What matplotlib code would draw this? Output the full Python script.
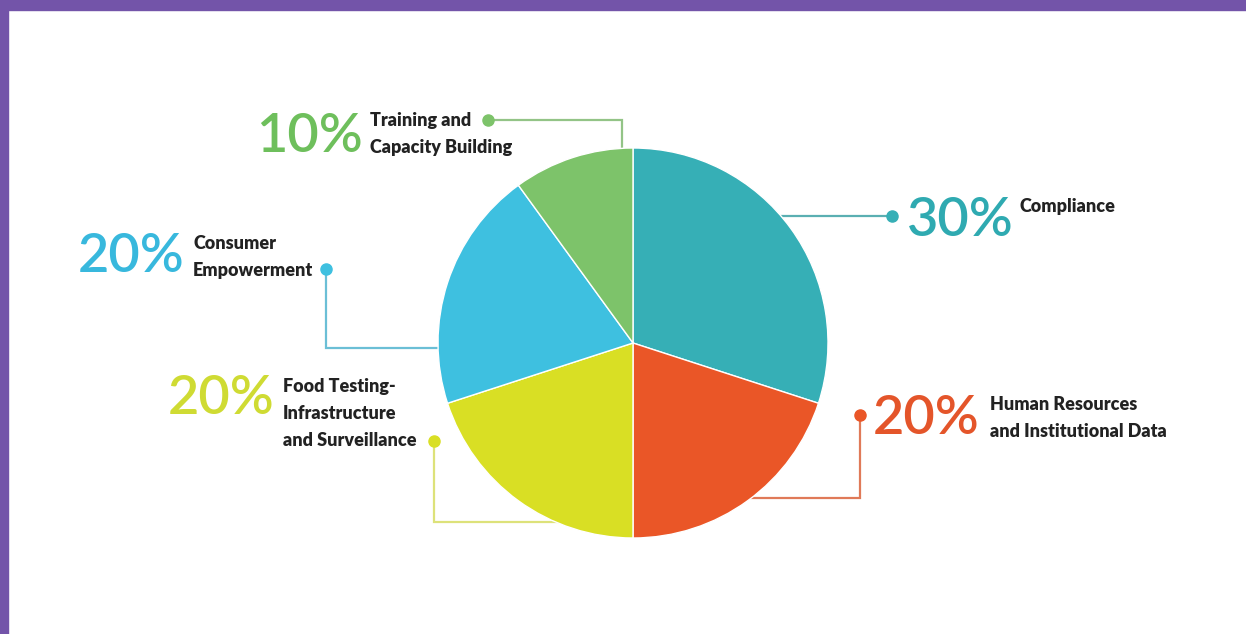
import matplotlib.pyplot as plt
from matplotlib.patches import Rectangle

# data
labels = ['Compliance', 'Human Resources\nand Institutional Data',
          'Food Testing-\nInfrastructure\nand Surveillance',
          'Consumer\nEmpowerment', 'Training and\nCapacity Building']
shares = [30, 20, 20, 20, 10]
colors = ['#36AFB6', '#EA5627', '#D9DF24', '#3EC0E0', '#7DC36A']
pct_colors = ['#2FAAB1', '#E4552A', '#CFDB33', '#38B8DD', '#6EBF5C']
line_colors = ['#5AAFB2', '#E07A58', '#DDE27A', '#6BBFD6', '#93C487']

W, H = 1246, 634
CX, CY, R = 633, 343, 195


def Y(y):
    # pixel row -> data y
    return H - y


fig = plt.figure(figsize=(W / 100, H / 100), dpi=100)
ax = fig.add_axes([0, 0, 1, 1])

# purple frame (top + left)
purple = '#7354A9'
ax.add_patch(Rectangle((0, Y(10)), W, 10, color=purple, zorder=0))
ax.add_patch(Rectangle((0, 0), 8, H, color=purple, zorder=0))

ax.pie(shares, colors=colors, startangle=90, counterclock=False,
       center=(CX, Y(CY)), radius=R, frame=True,
       wedgeprops=dict(edgecolor='white', linewidth=1.0))
ax.set_xlim(0, W)
ax.set_ylim(0, H)
ax.set_aspect('equal')
ax.axis('off')

# leader lines: dot -> corner -> end hidden under the pie
leaders = [
    [(892, 216), (700, 216)],
    [(860, 415), (860, 498), (700, 498)],
    [(434, 441), (434, 522), (600, 522)],
    [(326, 269), (326, 348), (520, 348)],
    [(488, 120), (622, 120), (622, 250)],
]
for pts, lc, c in zip(leaders, line_colors, colors):
    xs = [p[0] for p in pts]
    ys = [Y(p[1]) for p in pts]
    ax.plot(xs, ys, color=lc, lw=1.6, zorder=0.5, solid_joinstyle='miter')
    ax.plot(xs[0], ys[0], 'o', color=c, ms=8, zorder=3)

# percentage + label positions (pct left x, pct center y, label x, label top y)
spots = [
    (907, 220, 1020, 198),
    (873, 419, 990, 396),
    (168, 399, 283, 378),
    (78, 257, 193, 235),
    (256, 136, 370, 112),
]
line_gap = 27
for (px, py, lx, ly), share, lab, pc in zip(spots, shares, labels, pct_colors):
    ax.text(px, Y(py), f'{share}%', color=pc, fontsize=39, family='Lato',
            fontweight='semibold', va='center', ha='left')
    for i, part in enumerate(lab.split('\n')):
        ax.text(lx, Y(ly + i * line_gap), part, color='#222222', fontsize=13,
                family='Lato', fontweight='heavy', va='top', ha='left')

fig.savefig('out.png', dpi=100, facecolor='white')
